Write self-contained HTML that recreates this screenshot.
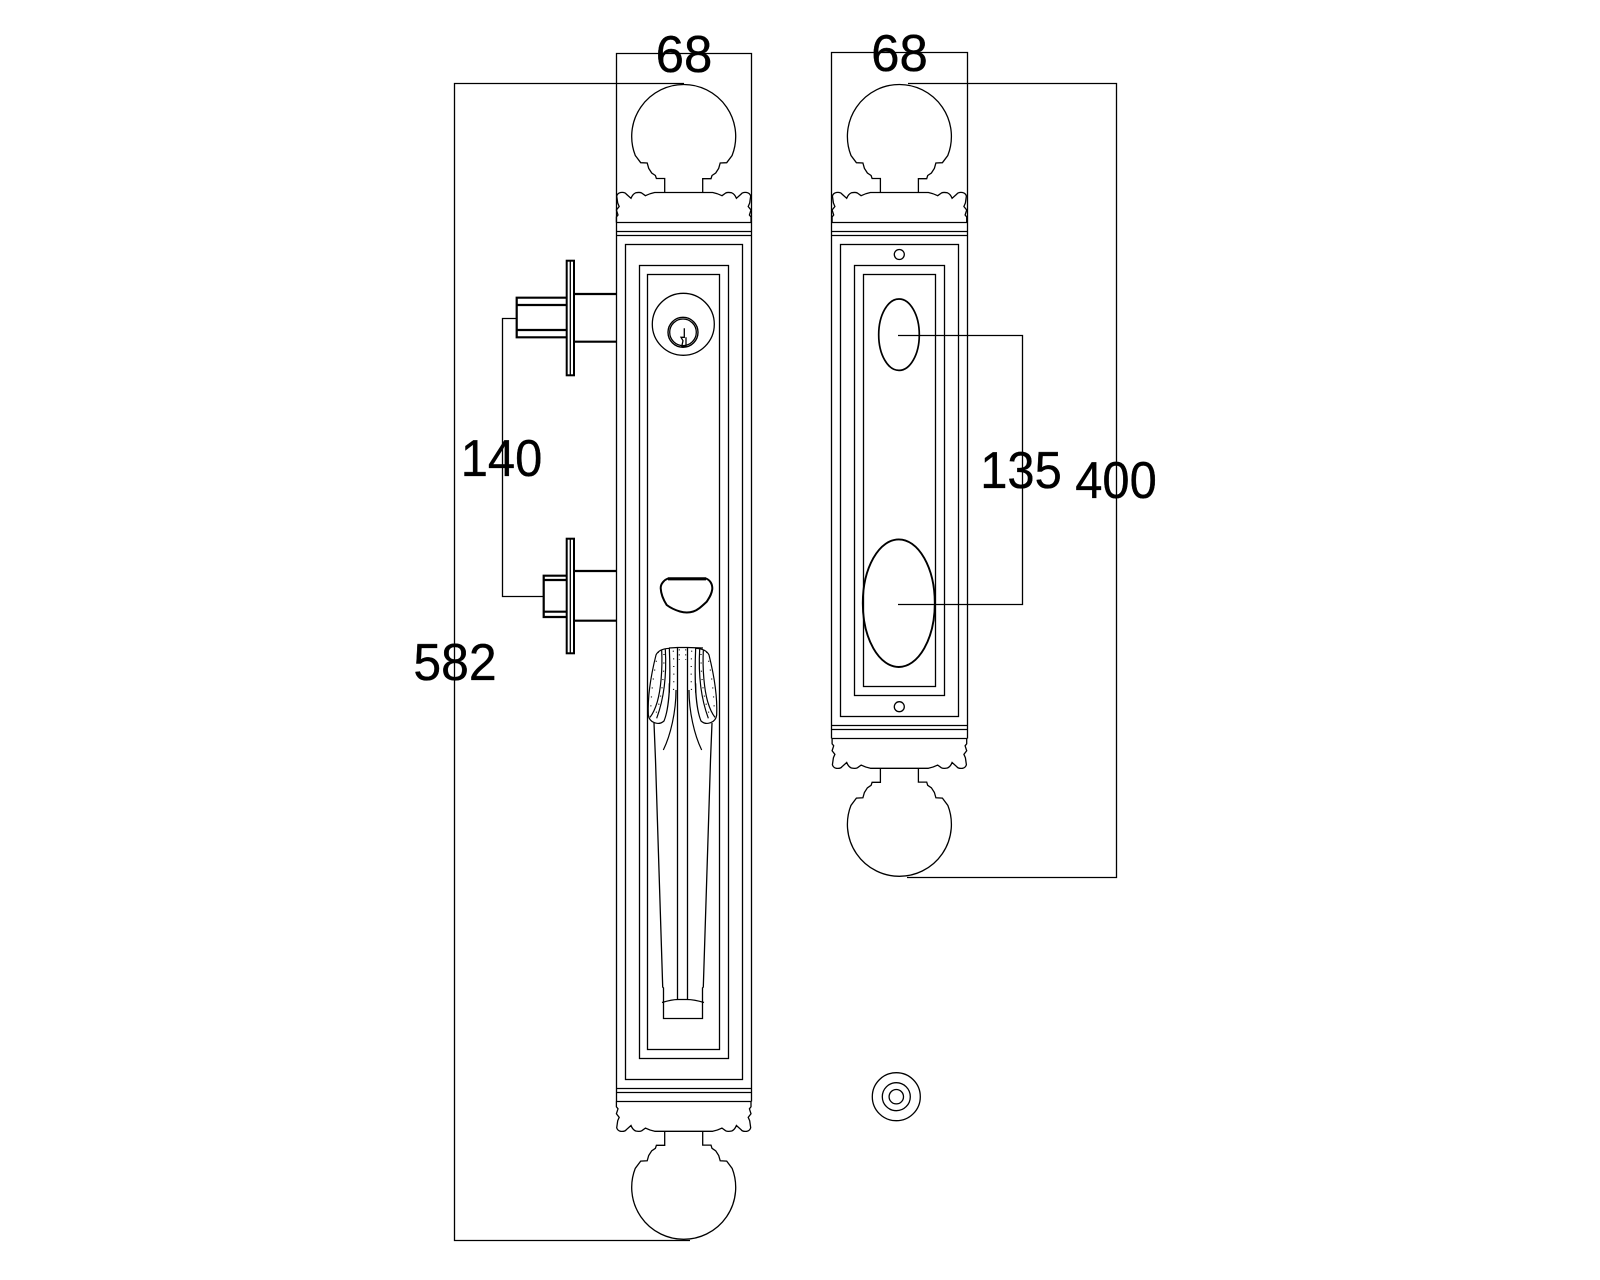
<!DOCTYPE html>
<html>
<head>
<meta charset="utf-8">
<title>Door handle set drawing</title>
<style>
html,body{margin:0;padding:0;background:#fff;}
svg{display:block;}
text{font-family:"Liberation Sans",sans-serif;font-size:52px;fill:#000;stroke:#000;stroke-width:.35;text-anchor:middle;}
</style>
</head>
<body>
<svg width="1600" height="1280" viewBox="0 0 1600 1280" xmlns="http://www.w3.org/2000/svg">
<defs>
  <g id="cap" fill="none" stroke="#000" stroke-width="1.3">
    <path d="M-19,192.5 V178.5 H-27.3 L-28.3,175.5 L-32,173 L-35,168.3 L-36.5,163 L-43,162.7 L-48.4,155.5 A52,52 0 1 1 48.4,155.5 L43,162.7 L36.5,163 L35,168.3 L32,173 L28.3,175.5 L27.3,178.7 H19 V192.5"/>
    <path d="M-67.3,222.5 V217 L-65.7,215 L-67.3,210 L-64.5,206.5 L-66,203 L-67,196 Q-66,193 -63,192.5 Q-59,192 -57.5,194 L-52.7,198.3 Q-51,194 -48,192.8 Q-44,192 -42,193 L-38.3,195.7 Q-34,193.5 -29,192.5 H29 Q34,193.5 38.3,195.7 L42,193 Q44,192 48,192.8 Q51,194 52.7,198.3 L57.5,194 Q59,192 63,192.5 Q66,193 67,196 L66,203 L64.5,206.5 L67.3,210 L65.7,215 L67.3,217 V222.5"/>
  </g>
  <g id="lobe" fill="none" stroke="#000" stroke-width="3.6">
    <path d="M88,25 C70,26 55,30 48,45 C38,85 22,160 25,225 C28,248 55,258 72,243 C88,205 92,120 88,25 Z"/>
    <path d="M65,30 C68,90 62,150 52,185 C46,205 38,222 30,232"/>
    <path d="M76,28 C80,100 74,170 50,235"/>
    <path d="M108,150 C108,215 92,285 70,330"/>
    <path d="M88,130 C88,140 88,150 88,158"/>
    <path d="M55,36 C42,90 34,150 32,215" stroke-width="3.6" stroke-dasharray="3 24"/>
    <path d="M72,42 C72,110 66,170 48,220" stroke-width="3.6" stroke-dasharray="3 22"/>
    <path d="M100,32 C102,80 102,120 100,165" stroke-width="3.6" stroke-dasharray="3 20"/>
    <path d="M118,28 V60" stroke-width="3.6" stroke-dasharray="3 12"/>
  </g>
</defs>

<g fill="none" stroke="#000" stroke-width="1.3">
  <!-- left plate -->
  <path d="M616.5,1101.5 V53.5 H751.5 V1101.5"/>
  <path d="M616.5,222.5 H751.5 M616.5,231.5 H751.5 M616.5,235.5 H751.5"/>
  <path d="M616.5,1088.5 H751.5 M616.5,1092.5 H751.5 M616.5,1101.5 H751.5"/>
  <rect x="625.5" y="244.5" width="117" height="835"/>
  <rect x="639.5" y="265.5" width="89" height="793"/>
  <rect x="647.5" y="274.5" width="72" height="775"/>

  <!-- right plate -->
  <path d="M831.5,738.5 V52.5 H967.5 V738.5"/>
  <path d="M831.5,222.5 H967.5 M831.5,231.5 H967.5 M831.5,235.5 H967.5"/>
  <path d="M831.5,725.5 H967.5 M831.5,729.5 H967.5 M831.5,738.5 H967.5"/>
  <rect x="840.5" y="244.5" width="118" height="472"/>
  <rect x="854.5" y="265.5" width="90" height="430"/>
  <rect x="863.5" y="274.5" width="72" height="412"/>
  <circle cx="899.3" cy="254.5" r="5"/>
  <circle cx="899.3" cy="706.7" r="5"/>
  <ellipse cx="899" cy="334.7" rx="20.3" ry="35.7" stroke-width="1.7"/>
  <ellipse cx="898.8" cy="603.2" rx="36" ry="63.8" stroke-width="1.9"/>

  <!-- dimension lines -->
  <path d="M684,83.5 H454.5 V1240.5 H690"/>
  <path d="M908,83.5 H1116.5 V877.5 H907"/>
  <path d="M898,335.5 H1022.5 V604.5 H898"/>
  <path d="M516.7,318.5 H502.5 V596.5 H543.7"/>

  <!-- upper latch -->
  <rect x="566.7" y="260.7" width="7.3" height="114.6" stroke-width="2"/>
  <path d="M570.3,261 V375"/>
  <path d="M566.7,297.7 H516.7 V337.3 H566.7 M516.7,305 H566.7 M516.7,330 H566.7" stroke-width="2.2"/>
  <path d="M574,294 H617 M574,341.7 H617" stroke-width="2.2"/>

  <!-- lower latch -->
  <rect x="566.7" y="538.7" width="7.3" height="114.6" stroke-width="2"/>
  <path d="M570.3,539 V653"/>
  <path d="M566.7,575.7 H543.7 V617 H566.7 M543.7,580 H566.7 M543.7,611.7 H566.7" stroke-width="2.2"/>
  <path d="M574,571 H617 M574,620.7 H617" stroke-width="2.2"/>

  <!-- cylinder -->
  <circle cx="683.3" cy="324.3" r="31"/>
  <circle cx="683" cy="332.3" r="15" stroke-width="1.4"/>
  <circle cx="683" cy="332.3" r="13.3"/>
  <path d="M684.3,328.3 V337.3 H681 L683,340.7 L681.7,346.7 H686 V337.3"/>

  <!-- thumb piece -->
  <path d="M668,578.5 H706 C710,580 712.5,584 712.3,589 C711.5,595 709,598 706.7,601.7 C702,606 698,610 693.3,611.5 Q687,613.5 680,611.5 C675,610 670,607.5 666.7,605 C663.5,600 661,594 660.7,588.3 C660.5,584 664,580 668,578.5 Z" stroke-width="2"/>
  <path d="M668,578.8 H706" stroke-width="3.2"/>

  <!-- handle -->
  <path d="M669,648 L677.5,647.5 H687.5 L703,648"/>
  <path d="M677.5,647.5 V999.5 M687.5,647.5 V999.5"/>
  <path d="M654,723 L655.5,760 L662.7,987 L663.5,988 V1018.5 H702.5 V988 L703.3,987 L710.5,760 L712,723"/>
  <path d="M662,1002.5 Q672,999.5 678,999.5 H687 Q694,999.5 704,1002.5"/>

  <!-- stop -->
  <circle cx="896.3" cy="1096.7" r="24"/>
  <circle cx="896.3" cy="1096.7" r="14"/>
  <circle cx="896.3" cy="1096.7" r="7.2"/>
</g>

<!-- handle lobes -->
<use href="#lobe" transform="translate(640,640) scale(.3333)"/>
<use href="#lobe" transform="translate(725,640) scale(-.3333,.3333)"/>

<!-- caps -->
<use href="#cap" transform="translate(683.7,0)"/>
<use href="#cap" transform="translate(683.7,1323.8) scale(1,-1)"/>
<use href="#cap" transform="translate(899.4,0)"/>
<use href="#cap" transform="translate(899.4,960.8) scale(1,-1)"/>

<text transform="translate(684,72) scale(.98,1)">68</text>
<text transform="translate(899.5,71) scale(.98,1)">68</text>
<text transform="translate(501.5,476) scale(.94,1)">140</text>
<text transform="translate(455,680) scale(.96,1)">582</text>
<text transform="translate(1021,488) scale(.94,1)">135</text>
<text transform="translate(1116,498) scale(.94,1)">400</text>
</svg>
</body>
</html>
